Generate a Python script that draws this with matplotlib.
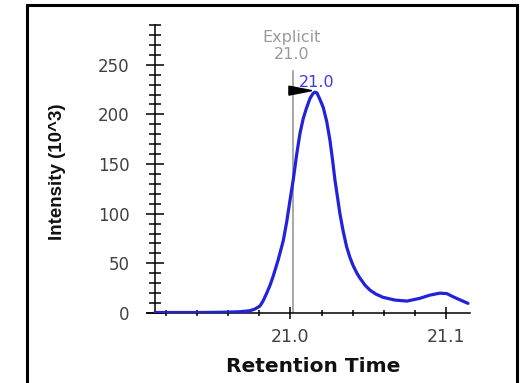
import matplotlib
matplotlib.use("Agg")
import matplotlib.pyplot as plt
from matplotlib.ticker import MultipleLocator, FormatStrFormatter
from matplotlib.patches import Polygon, Rectangle

# ---- data (retention time in minutes, intensity in 10^3) ----
rt = [20.9131, 20.9420, 20.9580, 20.9676, 20.9740, 20.9772, 20.9804, 20.9824,
      20.9847, 20.9869, 20.9890, 20.9922, 20.9954, 20.9976, 20.9997, 21.0018,
      21.0040, 21.0061, 21.0082, 21.0104, 21.0125, 21.0144, 21.0157, 21.0170,
      21.0189, 21.0210, 21.0232, 21.0253, 21.0269, 21.0285, 21.0301, 21.0317,
      21.0337, 21.0360, 21.0381, 21.0401, 21.0426, 21.0446, 21.0478, 21.0510,
      21.0548, 21.0593, 21.0670, 21.0747, 21.0830, 21.0894, 21.0958, 21.1003,
      21.1042, 21.1093, 21.1138]
intensity = [0.5, 0.5, 0.8, 1.3, 2.3, 4.0, 7.0, 12.0,
             19.8, 28.0, 37.5, 54.0, 73.0, 92.0, 113.6, 134.5,
             160.0, 181.0, 196.0, 207.0, 216.0, 221.0, 222.4, 221.5,
             215.0, 207.0, 193.0, 174.0, 155.0, 134.0, 117.0, 100.0,
             83.0, 66.6, 56.0, 48.0, 40.0, 35.0, 28.0, 23.0,
             19.0, 15.8, 13.0, 12.0, 14.8, 18.0, 20.0, 19.5,
             16.4, 12.8, 9.7]

explicit_rt = 21.0017
explicit_top = 244
peak_rt = 21.0157
peak_height = 222.4
explicit_label = "Explicit\n21.0"
peak_label = "21.0"

x_major_ticks = [21.0, 21.1]
y_major_ticks = [0, 50, 100, 150, 200, 250]

W, H = 520, 383
fig = plt.figure(figsize=(W / 100, H / 100), dpi=100)
fig.patch.set_facecolor("white")

ax = fig.add_axes([147 / W, 1 - 313 / H, 323 / W, 288 / H])
ax.set_xlim(20.908, 21.1151)
ax.set_ylim(0, 290)

# chromatogram
ax.plot(rt, intensity, color="#2222dd", lw=2.3, solid_joinstyle="round",
        solid_capstyle="round", zorder=3)

# explicit retention time marker
ax.plot([explicit_rt, explicit_rt], [0, explicit_top], color="#999999", lw=1.2, zorder=2)
flag = Polygon([(explicit_rt - 0.0027, peak_height + 6),
                (explicit_rt - 0.0027, peak_height - 3),
                (peak_rt - 0.0020, peak_height + 1.5)],
               closed=True, color="black", zorder=4)
ax.add_patch(flag)

ax.text(explicit_rt - 0.0008, 269, explicit_label, ha="center", va="center",
        color="#9a9a9a", fontsize=11.5, family="DejaVu Sans", linespacing=1.15)
ax.text(peak_rt + 0.0012, 232, peak_label, ha="center", va="center",
        color="#3b3be6", fontsize=11.5, family="DejaVu Sans")

# axes styling
for s in ("top", "right"):
    ax.spines[s].set_visible(False)
ax.spines["left"].set_position(("data", 20.9131))
ax.spines["left"].set_linewidth(1.1)
ax.spines["bottom"].set_linewidth(1.1)

ax.set_xticks(x_major_ticks)
ax.xaxis.set_minor_locator(MultipleLocator(0.02))
ax.xaxis.set_major_formatter(FormatStrFormatter("%.1f"))
ax.set_yticks(y_major_ticks)
ax.yaxis.set_minor_locator(MultipleLocator(10))

ax.tick_params(axis="y", which="major", direction="inout", length=13, width=1.1,
               pad=12, labelsize=12, labelcolor="#404040")
ax.tick_params(axis="y", which="minor", direction="inout", length=8.5, width=1.1)
ax.tick_params(axis="x", which="major", direction="inout", length=8, width=1.1,
               pad=7, labelsize=12.5, labelcolor="#404040")
ax.tick_params(axis="x", which="minor", direction="inout", length=4.5, width=1.1)
for lab in ax.get_xticklabels() + ax.get_yticklabels():
    lab.set_family("DejaVu Sans")

ax.set_xlabel("Retention Time", fontsize=14.5, fontweight="bold",
              family="DejaVu Sans", color="#111111", va="center")
ax.xaxis.set_label_coords((313 - 147) / 323, (313 - 367) / 288)
ax.set_ylabel("Intensity (10^3)", fontsize=13.5, fontweight="bold",
              family="Liberation Sans", color="#111111", va="center")
ax.yaxis.set_label_coords((57 - 147) / 323, (313 - 172) / 288)

# outer frame
frame = Rectangle((27 / W, -0.02), 490 / W, 1.02 - 5 / H, transform=fig.transFigure,
                  fill=False, edgecolor="black", lw=2.2, clip_on=False)
fig.patches.append(frame)

fig.savefig("out.png", dpi=100, facecolor="white")
